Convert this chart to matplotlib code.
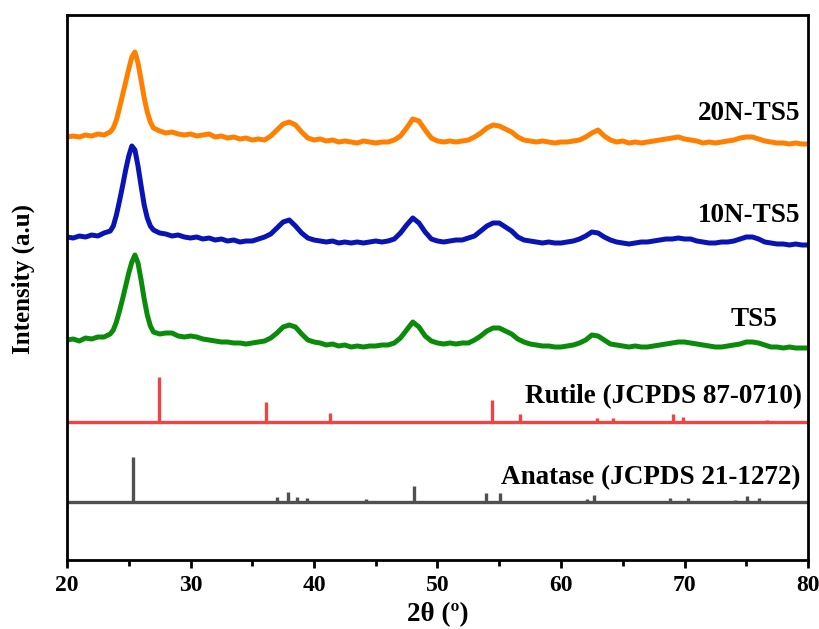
import matplotlib
matplotlib.use("Agg")
import matplotlib.pyplot as plt
from matplotlib.ticker import MultipleLocator

# ---------------- data ----------------
two_theta = [20.0, 20.5, 21.0, 21.5, 22.0, 22.5, 23.0, 23.5,
             23.75, 24.0, 24.25, 24.5, 24.75, 25.0, 25.25, 25.5, 25.75, 26.0, 26.25, 26.5, 26.75, 27.0,
             27.5, 28.0, 28.5, 29.0, 29.5, 30.0, 30.5, 31.0, 31.5, 32.0, 32.5, 33.0, 33.5, 34.0, 34.5,
             35.0, 35.5, 36.0, 36.5, 37.0, 37.5, 38.0, 38.5, 39.0, 39.5, 40.0, 40.5, 41.0, 41.5, 42.0,
             42.5, 43.0, 43.5, 44.0, 44.5, 45.0, 45.5, 46.0, 46.5, 47.0, 47.5, 48.0, 48.5, 49.0, 49.5,
             50.0, 50.5, 51.0, 51.5, 52.0, 52.5, 53.0, 53.5, 54.0, 54.5, 55.0, 55.5, 56.0, 56.5, 57.0,
             57.5, 58.0, 58.5, 59.0, 59.5, 60.0, 60.5, 61.0, 61.5, 62.0, 62.5, 63.0, 63.5, 64.0, 64.5,
             65.0, 65.5, 66.0, 66.5, 67.0, 67.5, 68.0, 68.5, 69.0, 69.5, 70.0, 70.5, 71.0, 71.5, 72.0,
             72.5, 73.0, 73.5, 74.0, 74.5, 75.0, 75.5, 76.0, 76.5, 77.0, 77.5, 78.0, 78.5, 79.0, 79.5,
             80.0]

n20_ts5 = [423, 424, 423, 425, 424, 426, 425, 428,
           432, 440, 452, 465, 478, 491, 503, 508, 497, 480, 462, 448, 438, 432,
           429, 427, 428, 426, 425, 426, 424, 425, 426, 423, 424, 422, 423, 421, 422,
           420, 421, 420, 424, 430, 436, 438, 435, 428, 422, 420, 421, 419, 420, 418,
           419, 418, 417, 419, 418, 417, 418, 418, 420, 424, 432, 441, 439, 430, 422,
           419, 418, 419, 418, 419, 420, 423, 427, 432, 435, 434, 431, 428, 423, 420,
           419, 418, 419, 418, 417, 418, 418, 419, 420, 423, 427, 430, 424, 420, 418,
           419, 417, 418, 417, 418, 419, 420, 421, 422, 423, 421, 420, 419, 417, 418,
           417, 418, 419, 420, 422, 423, 423, 421, 419, 418, 417, 417, 416, 417, 416,
           416]

n10_ts5 = [323, 322, 324, 323, 325, 324, 327, 329,
           334, 345, 359, 374, 390, 404, 414, 410, 394, 374, 355, 342, 334, 330,
           327, 326, 324, 325, 323, 322, 323, 321, 322, 320, 321, 319, 320, 318, 319,
           319, 321, 323, 326, 332, 338, 340, 334, 327, 322, 320, 319, 318, 319, 317,
           318, 317, 318, 317, 318, 319, 318, 319, 321, 327, 335, 342, 337, 328, 321,
           319, 318, 319, 320, 320, 322, 324, 329, 334, 337, 337, 333, 329, 323, 320,
           319, 318, 317, 318, 317, 317, 318, 319, 321, 324, 328, 327, 323, 320, 318,
           317, 316, 317, 318, 318, 319, 320, 321, 321, 322, 321, 321, 319, 318, 317,
           317, 318, 318, 319, 321, 323, 323, 321, 318, 317, 316, 316, 315, 316, 315,
           315]

ts5 = [220, 221, 219, 222, 221, 223, 223, 226,
       230, 238, 249, 261, 274, 287, 298, 305, 297, 280, 261, 245, 234, 228,
       226, 227, 227, 224, 223, 224, 223, 221, 220, 219, 218, 218, 217, 217, 216,
       217, 218, 219, 222, 227, 233, 235, 233, 226, 220, 218, 217, 215, 216, 214,
       215, 213, 214, 213, 214, 214, 215, 215, 217, 222, 230, 238, 233, 224, 219,
       217, 216, 217, 216, 217, 217, 220, 224, 229, 232, 232, 229, 226, 221, 218,
       216, 215, 214, 214, 213, 213, 214, 215, 217, 220, 225, 224, 220, 216, 215,
       214, 213, 214, 213, 213, 214, 215, 216, 217, 218, 218, 217, 216, 215, 214,
       213, 213, 214, 215, 216, 218, 218, 217, 215, 213, 213, 212, 213, 212, 212,
       212]

rutile_pos = [27.45, 36.1, 41.3, 54.4, 56.7, 62.9, 64.2, 69.1, 69.9, 72.6, 76.7]
rutile_rel = [100, 44, 20, 49, 18, 8, 8, 18, 11, 3, 5]

anatase_pos = [25.35, 37.0, 37.9, 38.6, 39.4, 44.2, 48.1, 53.9, 55.1, 62.1, 62.7,
               68.8, 70.3, 74.1, 75.1, 76.0]
anatase_rel = [100, 11, 22, 11, 9, 7, 36, 20, 20, 7, 16, 9, 9, 4, 13, 9]

series_labels = ["20N-TS5", "10N-TS5", "TS5"]
ref_labels = ["Rutile (JCPDS 87-0710)", "Anatase (JCPDS 21-1272)"]
x_ticks = [20, 30, 40, 50, 60, 70, 80]

# ---------------- style ----------------
FONT = ["Liberation Serif", "DejaVu Serif"]
plt.rcParams['font.family'] = FONT
plt.rcParams['font.weight'] = 'bold'

c_orange = "#FF8000"
c_blue = "#0A14B4"
c_green = "#0A8C0A"
c_red = "#F04444"
c_gray = "#505050"

rutile_base = 138
anatase_base = 58
stick_scale = 0.45

fig = plt.figure(figsize=(8.2, 6.29), dpi=100)
ax = fig.add_axes([67 / 820, 69 / 629, 741 / 820, 545 / 629])

ax.plot(two_theta, n20_ts5, color=c_orange, lw=3.6, solid_joinstyle='round')
ax.plot(two_theta, n10_ts5, color=c_blue, lw=3.6, solid_joinstyle='round')
ax.plot(two_theta, ts5, color=c_green, lw=3.6, solid_joinstyle='round')

# reference patterns
ax.hlines(rutile_base, 20, 80, color=c_red, lw=2.4)
ax.vlines(rutile_pos, rutile_base, [rutile_base + r * stick_scale for r in rutile_rel],
          color=c_red, lw=2.4)
ax.hlines(anatase_base, 20, 80, color=c_gray, lw=2.4)
ax.vlines(anatase_pos, anatase_base, [anatase_base + r * stick_scale for r in anatase_rel],
          color=c_gray, lw=2.4)

fs = 19.5
ax.text(79.4, 447, series_labels[0], ha='right', va='center', fontsize=fs, fontweight='bold')
ax.text(79.4, 345, series_labels[1], ha='right', va='center', fontsize=fs, fontweight='bold')
ax.text(75.6, 240, series_labels[2], ha='center', va='center', fontsize=fs, fontweight='bold')
ax.text(79.5, 163, ref_labels[0], ha='right', va='center', fontsize=fs, fontweight='bold')
ax.text(79.4, 82, ref_labels[1], ha='right', va='center', fontsize=fs, fontweight='bold')

ax.set_xlim(20, 80)
ax.set_ylim(0, 545)
ax.set_xticks(x_ticks)
ax.xaxis.set_minor_locator(MultipleLocator(5))
ax.set_yticks([])
ax.tick_params(axis='x', which='major', direction='out', length=6, width=2,
               labelsize=17, pad=5)
ax.tick_params(axis='x', which='minor', direction='out', length=4, width=2)
for lab in ax.get_xticklabels():
    lab.set_fontweight('bold')
for sp in ax.spines.values():
    sp.set_linewidth(2)
    sp.set_color('black')

ax.set_xlabel("2θ (º)", fontsize=19.5, fontweight='bold', labelpad=4)
ax.set_ylabel("Intensity (a.u)", fontsize=18, fontweight='bold')
ax.yaxis.set_label_coords(-0.043, 0.515)

fig.savefig("out.png", dpi=100)
